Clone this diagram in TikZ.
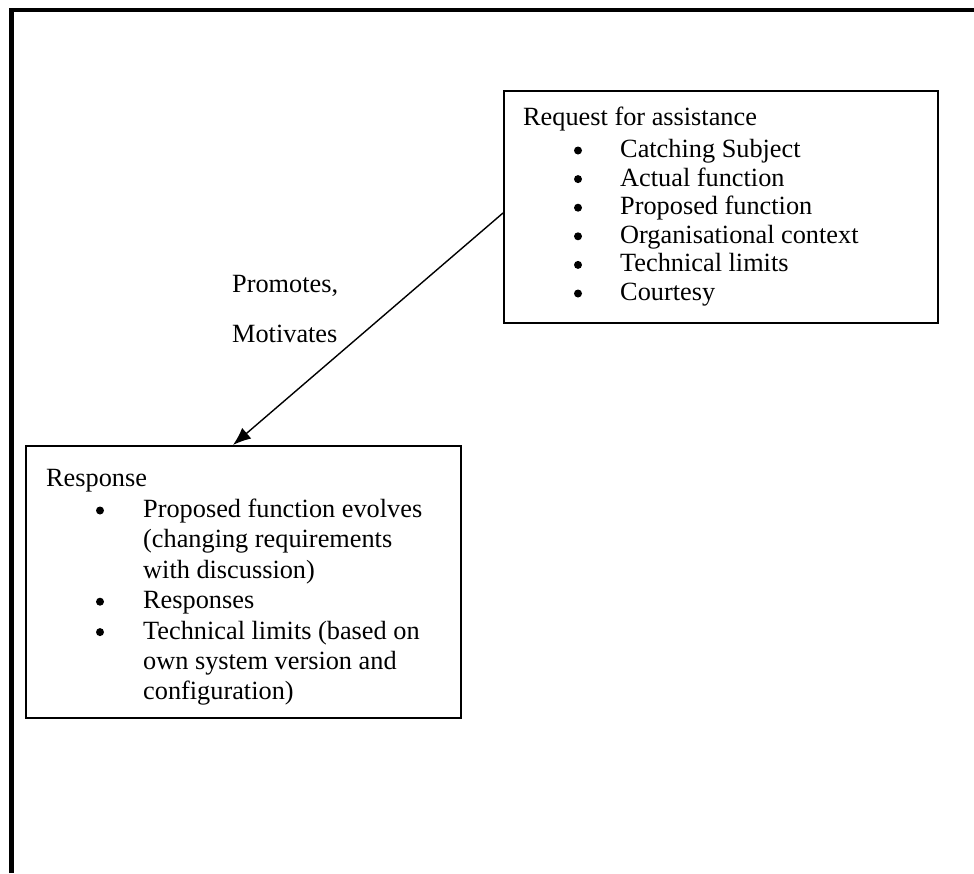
\documentclass[tikz,border=0pt]{standalone}
\usepackage{fontspec}
\setmainfont{Liberation Serif}
\usetikzlibrary{arrows.meta}
\begin{document}
\begin{tikzpicture}[x=1pt,y=-1pt,
  box/.style={draw,line width=1.6pt,anchor=north west,inner sep=0pt},
  txt/.style={anchor=base west,inner sep=0pt,font=\fontsize{26.3}{29}\selectfont},
  dot/.style={circle,fill,inner sep=0pt,minimum size=8pt},
  link/.style={line width=1.4pt,-{Latex[length=18pt,width=14pt]}}]
\useasboundingbox (0,0) rectangle (974,873);
% outer frame: top and left edges only
\draw[line width=4.5pt] (11.5,873) -- (11.5,10) -- (974,10);

% request box
\node[box,minimum width=434pt,minimum height=232pt] (req) at (503,90) {};
\node[txt] (reqt) at (523,125) {Request for assistance};
\foreach \i/\t in {0/Catching Subject,1/Actual function,2/Proposed function,
                   3/Organisational context,4/Technical limits,5/Courtesy}{
  \node[dot] (rb\i) at (578,157.5+28.6*\i-7) {};
  \node[txt] (ri\i) at (620,157.5+28.6*\i) {\t};
}

% response box
\node[box,minimum width=435pt,minimum height=272pt] (resp) at (25,445) {};
\node[txt] (respt) at (46,486.5) {Response};
\node[dot] (sb0) at (100,517.5-7) {};
\node[txt] (si0) at (143,517.5) {Proposed function evolves};
\node[txt] (si0b) at (143,547.9) {(changing requirements};
\node[txt] (si0c) at (143,578.3) {with discussion)};
\node[dot] (sb1) at (100,608.7-7) {};
\node[txt] (si1) at (143,608.7) {Responses};
\node[dot] (sb2) at (100,639.1-7) {};
\node[txt] (si2) at (143,639.1) {Technical limits (based on};
\node[txt] (si2b) at (143,669.5) {own system version and};
\node[txt] (si2c) at (143,699.9) {configuration)};

% arrow label
\node[txt] (lab1) at (232,292) {Promotes,};
\node[txt] (lab2) at (232,342) {Motivates};

% connector
\coordinate (from) at (503,213);
\coordinate (to) at (233,445);
\draw[link] (from) -- (to);
\end{tikzpicture}
\end{document}
